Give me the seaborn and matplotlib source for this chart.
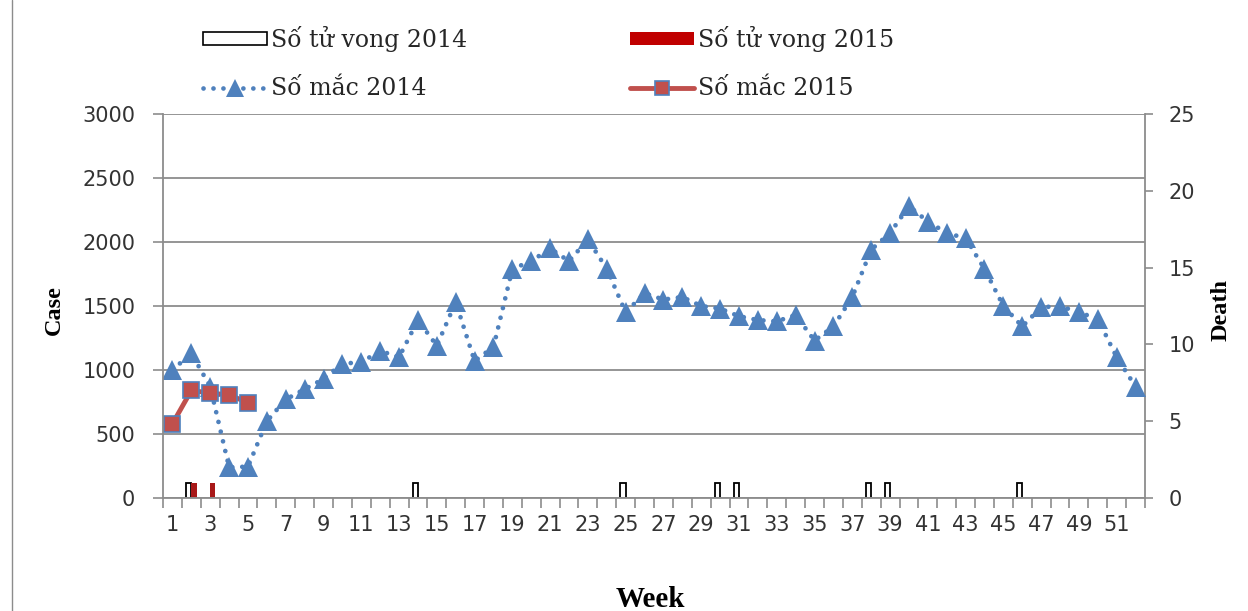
import numpy as np
import pandas as pd
import matplotlib
matplotlib.use("Agg")
import matplotlib.pyplot as plt
import seaborn as sns
from matplotlib.lines import Line2D
from matplotlib.patches import Patch

# ---------------- data ----------------
weeks = list(range(1, 53))
cases_2014 = [1000, 1130, 870, 240, 245, 600, 770, 850, 930, 1050,
              1060, 1150, 1100, 1390, 1190, 1530, 1070, 1180, 1790, 1850,
              1950, 1850, 2020, 1790, 1450, 1600, 1550, 1570, 1500, 1480,
              1420, 1390, 1380, 1430, 1230, 1340, 1570, 1940, 2070, 2280,
              2160, 2070, 2030, 1790, 1500, 1340, 1490, 1500, 1450, 1400,
              1100, 870]
weeks_2015 = [1, 2, 3, 4, 5]
cases_2015 = [580, 840, 820, 805, 745]

death_weeks_2014 = [2, 14, 25, 30, 31, 38, 39, 46]
deaths_2014 = [1, 1, 1, 1, 1, 1, 1, 1]
death_weeks_2015 = [2, 3]
deaths_2015 = [1, 1]

week_tick_labels = [str(w) for w in range(1, 52, 2)]
case_ticks = [0, 500, 1000, 1500, 2000, 2500, 3000]
death_ticks = [0, 5, 10, 15, 20, 25]

labels = ["Số tử vong 2014", "Số tử vong 2015", "Số mắc 2014", "Số mắc 2015"]

# ---------------- style ----------------
sns.set_theme(style="white")
plt.rcParams["font.family"] = ["DejaVu Sans"]

BLUE = "#4F81BD"
RED_LINE = "#C0504D"
RED_BAR = "#C00000"
GRID = "#8c8c8c"
TXT = "#333333"

W, H = 1248, 611
fig = plt.figure(figsize=(W / 100, H / 100), dpi=100)
x0, x1, y0, y1 = 163, 1145, 114, 498
ax = fig.add_axes([x0 / W, 1 - y1 / H, (x1 - x0) / W, (y1 - y0) / H])
ax2 = ax.twinx()

# ---------------- deaths (secondary axis) ----------------
deaths_df = pd.DataFrame({
    "week": death_weeks_2014 + death_weeks_2015,
    "deaths": deaths_2014 + deaths_2015,
    "year": ["2014"] * len(death_weeks_2014) + ["2015"] * len(death_weeks_2015),
})
sns.barplot(data=deaths_df, x="week", y="deaths", hue="year",
            hue_order=["2014", "2015"],
            palette={"2014": "white", "2015": RED_BAR},
            native_scale=True, dodge=True, width=0.56, gap=0,
            errorbar=None, legend=False, ax=ax2, linewidth=0)
for p in ax2.patches:
    fc = p.get_facecolor()
    if fc[0] > 0.95 and fc[1] > 0.95:
        p.set_edgecolor("black")
        p.set_linewidth(1.3)

# ---------------- cases (primary axis) ----------------
sns.lineplot(x=weeks, y=cases_2014, ax=ax, color=BLUE, marker="^",
             markersize=15, markeredgewidth=0, linewidth=3.4,
             linestyle=(0, (0.01, 2.1)), dash_capstyle="round")
sns.lineplot(x=weeks_2015, y=cases_2015, ax=ax, color=RED_LINE, marker="s",
             markersize=11, markerfacecolor=RED_LINE, markeredgecolor=BLUE,
             markeredgewidth=1.2, linewidth=3.5)

ax.set_zorder(ax2.get_zorder() + 1)
ax.patch.set_visible(False)

# ---------------- axes ----------------
ax.set_xlim(0.5, 52.5)
ax.set_ylim(0, 3000)
ax2.set_ylim(0, 25)

ax.set_xticks(np.arange(0.5, 52.6, 1))
ax.set_xticklabels([])
ax.set_xticks(list(range(1, 52, 2)), minor=True)
ax.set_xticklabels(week_tick_labels, minor=True)
ax.tick_params(axis="x", which="major", length=7, width=1.2, color=GRID,
               direction="out", bottom=True)
ax.tick_params(axis="x", which="minor", length=0, pad=12, labelsize=15,
               labelcolor=TXT, bottom=True)

ax.set_yticks(case_ticks)
ax.set_yticklabels([str(v) for v in case_ticks])
ax.tick_params(axis="y", length=7, width=1.2, color=GRID, direction="out",
               left=True, pad=13, labelsize=15, labelcolor=TXT)
ax2.set_yticks(death_ticks)
ax2.set_yticklabels([str(v) for v in death_ticks])
ax2.tick_params(axis="y", length=6, width=1.2, color=GRID, direction="out",
                right=True, pad=11, labelsize=15, labelcolor=TXT)

ax.yaxis.grid(True, color=GRID, linewidth=1.3)
ax.xaxis.grid(False)
ax2.grid(False)

for s in ["top", "right"]:
    ax.spines[s].set_visible(False)
for s in ["left", "bottom"]:
    ax.spines[s].set_color(GRID)
    ax.spines[s].set_linewidth(1.3)
for s in ["top", "left", "bottom"]:
    ax2.spines[s].set_visible(False)
ax2.spines["right"].set_color(GRID)
ax2.spines["right"].set_linewidth(1.3)

title_font = dict(family="Liberation Serif", weight="bold", color="black")
ax.set_ylabel("Case", fontsize=17.5, **title_font)
ax.yaxis.set_label_coords((65 - x0) / (x1 - x0), 0.49)
ax2.set_ylabel("Death", fontsize=17.5, **title_font)
ax2.yaxis.set_label_coords((1211 - x0) / (x1 - x0), 0.49)
ax.set_xlabel("Week", fontsize=21, **title_font)
ax.xaxis.set_label_coords((650 - x0) / (x1 - x0), (y1 - 586) / (y1 - y0))

# ---------------- legend ----------------
h_d14 = Patch(facecolor="white", edgecolor="black", linewidth=1.2)
h_d15 = Patch(facecolor=RED_BAR, edgecolor=RED_BAR, linewidth=0)
h_c14 = Line2D([], [], color=BLUE, marker="^", markersize=13, markeredgewidth=0,
               linewidth=3.4, linestyle=(0, (0.01, 2.1)), dash_capstyle="round")
h_c15 = Line2D([], [], color=RED_LINE, marker="s", markersize=10,
               markerfacecolor=RED_LINE, markeredgecolor=BLUE,
               markeredgewidth=1.2, linewidth=3.5)

leg_kw = dict(loc="upper left", frameon=False, borderpad=0, borderaxespad=0,
              handlelength=2.7, handleheight=0.5, handletextpad=0.2,
              labelspacing=1.07, numpoints=1,
              prop={"family": "DejaVu Serif", "size": 17})
legA = fig.legend([h_d14, h_c14], [labels[0], labels[2]],
                  bbox_to_anchor=(203 / W, 1 - 26 / H), **leg_kw)
legB = fig.legend([h_d15, h_c15], [labels[1], labels[3]],
                  bbox_to_anchor=(630 / W, 1 - 26 / H), **leg_kw)

fig.add_artist(Line2D([12 / W, 12 / W], [0, 1], transform=fig.transFigure,
                      color=GRID, linewidth=1))

fig.savefig("out.png", dpi=100)
